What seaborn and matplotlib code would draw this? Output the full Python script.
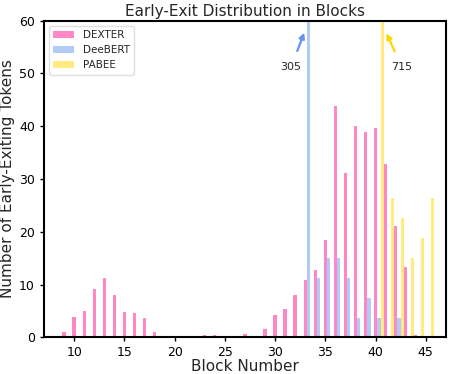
import matplotlib
matplotlib.use("Agg")
import matplotlib.pyplot as plt
import numpy as np
import pandas as pd
import seaborn as sns

# Early-exit counts per block (DeeBERT@33 and PABEE@40 run off the chart)
blocks = list(range(9, 46))
dexter = [1.0, 3.8, 5.0, 9.2, 11.3, 8.1, 4.8, 4.65, 3.65, 1.05, 0.0,
          0.25, 0.25, 0.25, 0.45, 0.45, 0.3, 0.25, 0.6, 0.25, 1.6,
          4.15, 5.3, 8.05, 10.9, 12.8, 18.4, 43.8, 31.1, 40.0, 38.9,
          39.7, 32.8, 21.0, 13.35, 0.4, 0.0]
deebert = [0.0] * 24 + [305, 11.3, 15.0, 15.0, 11.3, 3.75, 7.5, 3.75, 0.0, 3.75, 0.0, 0.0, 0.0]
pabee = [0.0] * 31 + [715, 26.4, 22.6, 15.0, 18.8, 26.4]

methods = ["DEXTER", "DeeBERT", "PABEE"]
offsets = {"DEXTER": 0.0, "DeeBERT": 1 / 3, "PABEE": 2 / 3}
colors = {"DEXTER": "#FF87C3", "DeeBERT": "#B1CAF6", "PABEE": "#FFEB7F"}

rows = []
for name, vals in zip(methods, [dexter, deebert, pabee]):
    for b, v in zip(blocks, vals):
        rows.append({"pos": round(b + offsets[name], 4), "count": v, "method": name})
df = pd.DataFrame(rows)

sns.set_theme(style="ticks")
plt.rcParams["font.family"] = ["DejaVu Sans"]

fig = plt.figure(figsize=(4.49, 3.74), dpi=100)
ax = fig.add_axes([0.098, 0.098, 0.895, 0.847])

sns.barplot(data=df, x="pos", y="count", hue="method", hue_order=methods,
            palette=colors, native_scale=True, dodge=False, width=1.0,
            errorbar=None, linewidth=0, saturation=1, ax=ax)

ax.set_xlim(7, 47)
ax.set_ylim(0, 60)
ax.set_xticks([10, 15, 20, 25, 30, 35, 40, 45])
ax.set_xticklabels(["10", "15", "20", "25", "30", "35", "40", "45"])
ax.set_yticks([0, 10, 20, 30, 40, 50, 60])
ax.tick_params(labelsize=9, length=3, width=1, colors="black")

for s in ax.spines.values():
    s.set_visible(True)
    s.set_linewidth(1.5)
    s.set_color("black")

ax.set_title("Early-Exit Distribution in Blocks", fontsize=11, pad=3)
ax.set_xlabel("Block Number", fontsize=11, labelpad=0)
ax.set_ylabel("Number of Early-Exiting Tokens", fontsize=11, labelpad=3)

# Off-scale bars get an arrow with their true value
ax.annotate("305", xy=(32.9, 57.7), xytext=(31.6, 51.2), fontsize=8,
            ha="center", va="center",
            arrowprops=dict(arrowstyle="-|>", color="cornflowerblue", lw=1.6,
                            mutation_scale=8, shrinkA=6, shrinkB=0))
ax.annotate("715", xy=(41.1, 57.6), xytext=(42.6, 51.2), fontsize=8,
            ha="center", va="center",
            arrowprops=dict(arrowstyle="-|>", color="gold", lw=1.6,
                            mutation_scale=8, shrinkA=6, shrinkB=0))

leg = ax.legend(loc="upper left", fontsize=7.5, frameon=True)
leg.get_frame().set_edgecolor("#d9d9d9")

fig.savefig("out.png", dpi=100)
